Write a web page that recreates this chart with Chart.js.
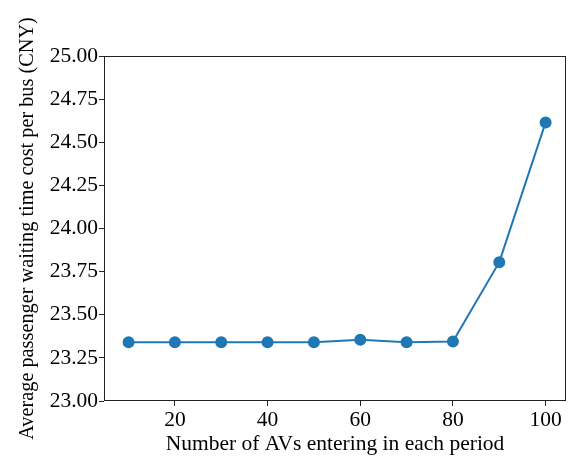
<!DOCTYPE html>
<html>
<head>
<meta charset="utf-8">
<script src="https://cdn.jsdelivr.net/npm/chart.js@4.4.0/dist/chart.umd.min.js"></script>
<style>
  html, body { margin: 0; padding: 0; background: #fff; }
  #wrap { width: 570px; height: 457px; }
</style>
</head>
<body>
<div id="wrap"><canvas id="chart" width="570" height="457"></canvas></div>
<script>
// 데이터
const avCounts = [10, 20, 30, 40, 50, 60, 70, 80, 90, 100];
const waitCost = [23.34, 23.34, 23.34, 23.34, 23.34, 23.355, 23.34, 23.345, 23.805, 24.615];
const xTicks = [20, 40, 60, 80, 100];
const yTicks = [23.00, 23.25, 23.50, 23.75, 24.00, 24.25, 24.50, 24.75, 25.00];

const serif = "'Liberation Serif', 'Times New Roman', serif";

// 네 면 테두리 그리기
const frame = {
  id: 'frame',
  afterDraw(chart) {
    const a = chart.chartArea;
    const c = chart.ctx;
    c.save();
    c.strokeStyle = '#222';
    c.lineWidth = 1;
    c.strokeRect(a.left + 0.5, a.top + 0.5, a.right - a.left - 1, a.bottom - a.top - 1);
    c.restore();
  }
};

new Chart(document.getElementById('chart').getContext('2d'), {
  type: 'line',
  data: {
    datasets: [{
      data: avCounts.map((x, i) => ({ x: x, y: waitCost[i] })),
      borderColor: '#1f77b4',
      backgroundColor: '#1f77b4',
      borderWidth: 2,
      pointRadius: 5,
      pointHoverRadius: 5,
      tension: 0
    }]
  },
  options: {
    responsive: false,
    animation: false,
    layout: { autoPadding: false, padding: { top: 56, right: 4, left: 0, bottom: 0 } },
    plugins: { legend: { display: false }, tooltip: { enabled: false } },
    scales: {
      x: {
        type: 'linear',
        min: 4.7,
        max: 104.4,
        afterBuildTicks: s => { s.ticks = xTicks.map(v => ({ value: v })); },
        afterFit: s => { s.height = 56; s.paddingRight = 0; s.paddingLeft = 0; },
        grid: { drawOnChartArea: false, drawTicks: true, tickLength: 5, color: '#222' },
        border: { display: false },
        ticks: { color: '#000', font: { family: serif, size: 21.5 }, padding: 1, maxRotation: 0 },
        title: { display: true, text: 'Number of AVs entering in each period', color: '#000',
                 font: { family: serif, size: 21.5 }, padding: { top: 0, bottom: 0 } }
      },
      y: {
        min: 23,
        max: 25,
        afterBuildTicks: s => { s.ticks = yTicks.map(v => ({ value: v })); },
        afterFit: s => { s.width = 104; },
        grid: { drawOnChartArea: false, drawTicks: true, tickLength: 5, color: '#222' },
        border: { display: false },
        ticks: { color: '#000', font: { family: serif, size: 21.5 }, padding: 1,
                 callback: v => v.toFixed(2) },
        title: { display: true, text: 'Average passenger waiting time cost per bus (CNY)', color: '#000',
                 font: { family: serif, size: 20.3 }, padding: { top: 15, bottom: 0 } }
      }
    }
  },
  plugins: [frame]
});
</script>
</body>
</html>
